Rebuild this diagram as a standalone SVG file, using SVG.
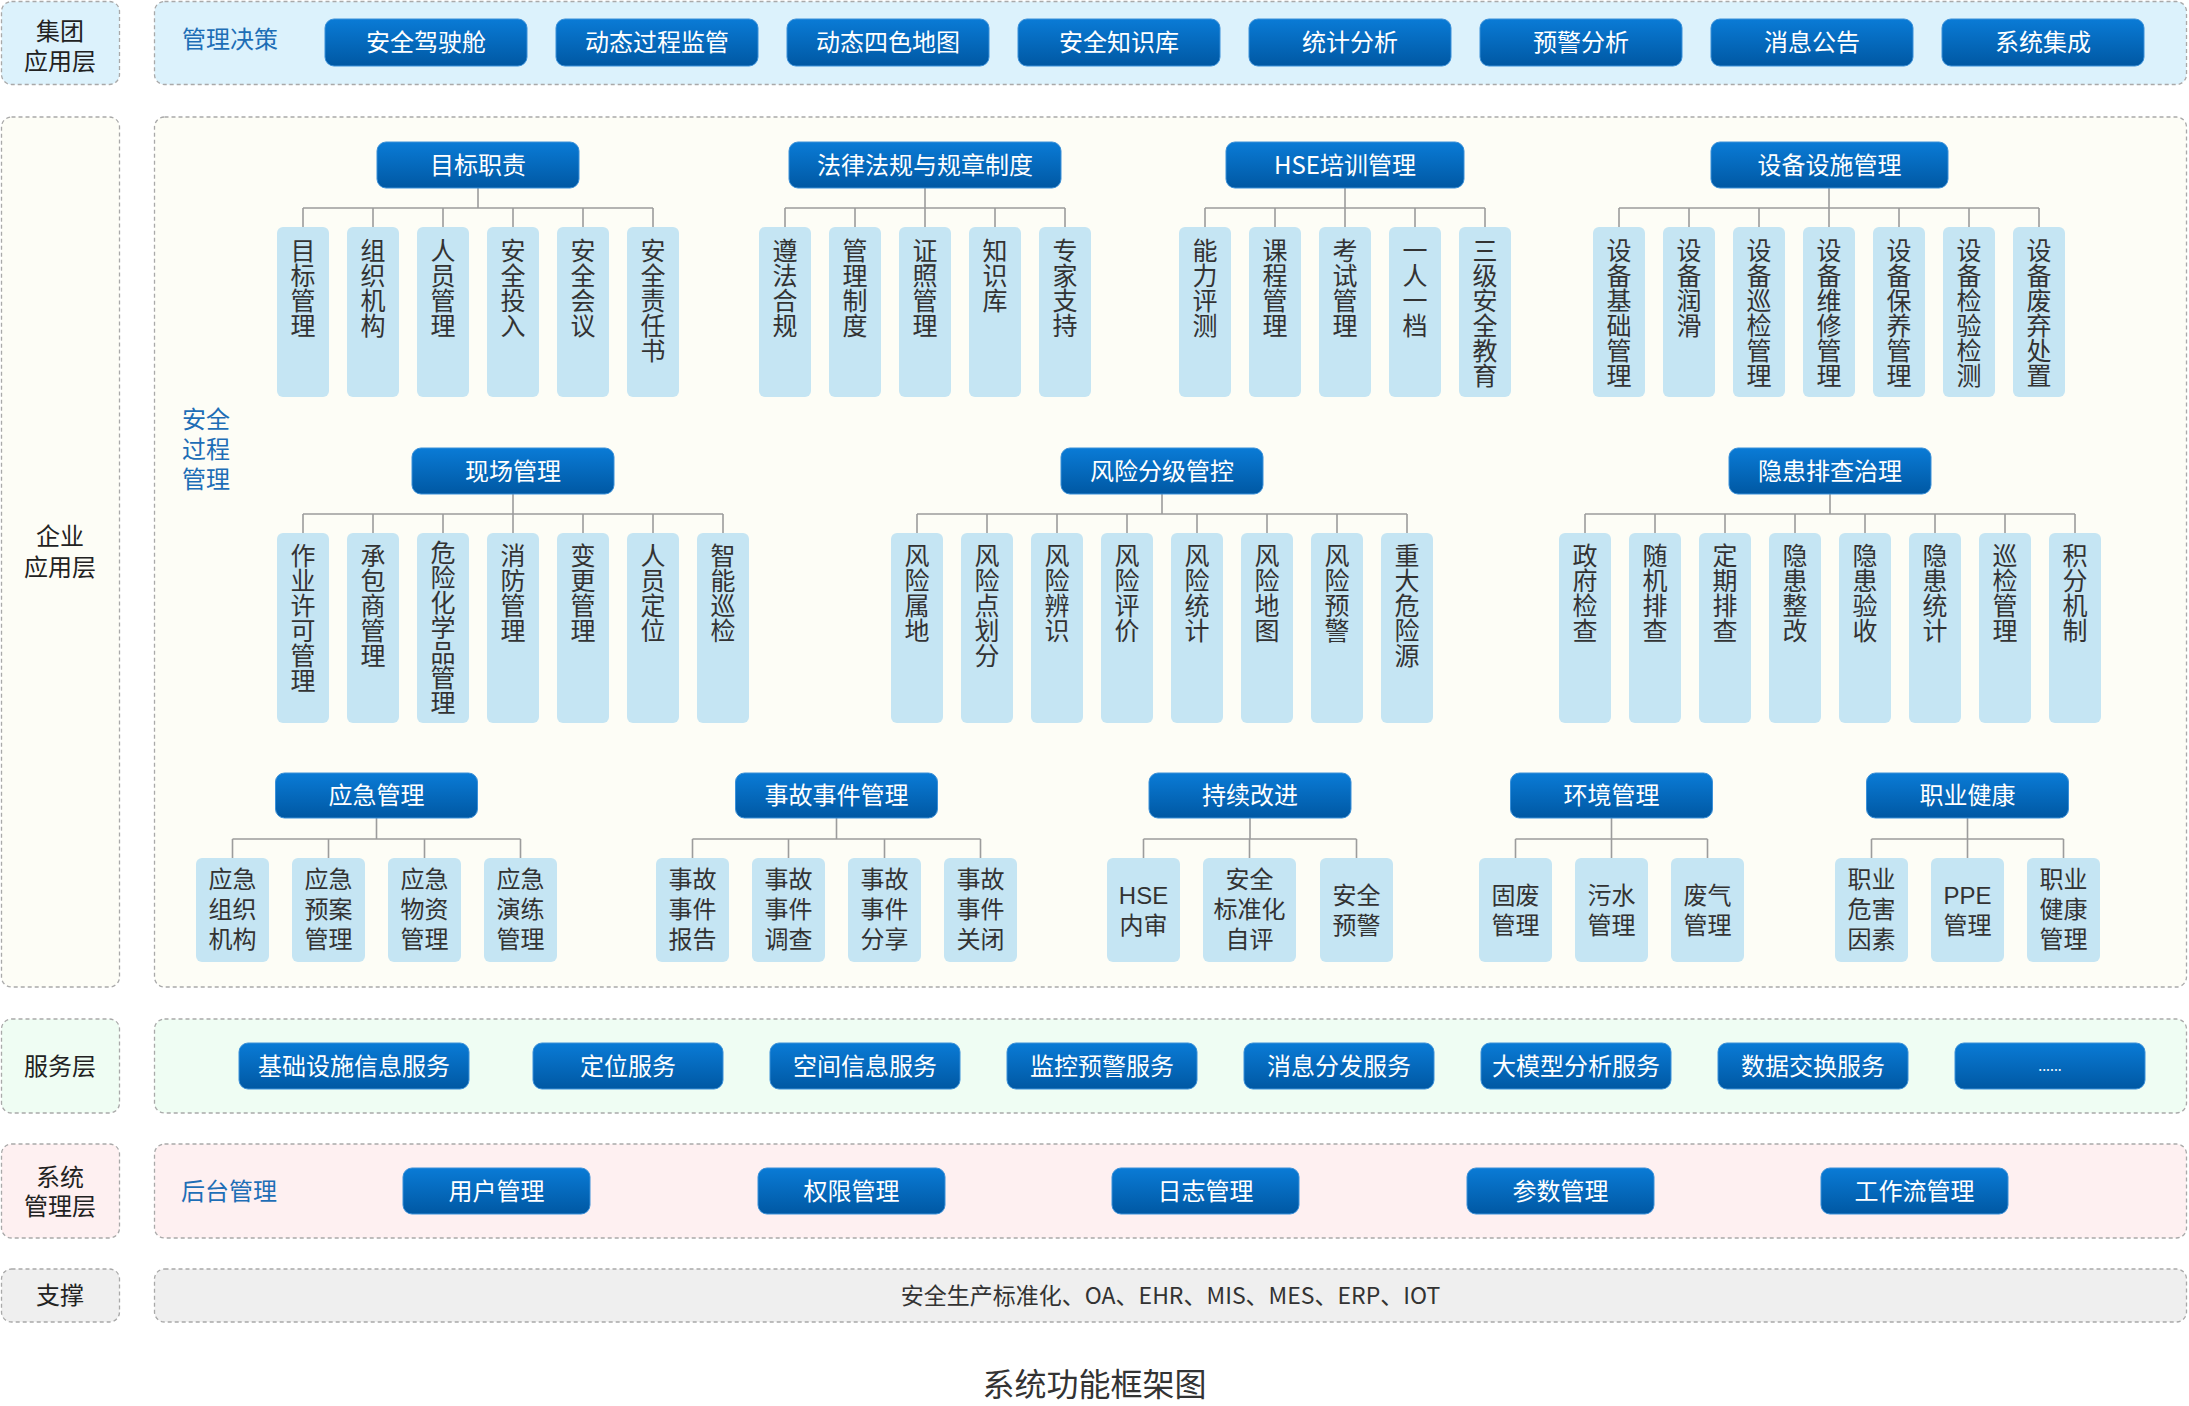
<svg xmlns="http://www.w3.org/2000/svg" width="2189" height="1406" viewBox="0 0 2189 1406">
<defs>
<linearGradient id="btnGrad" x1="0" y1="0" x2="0" y2="1">
<stop offset="0" stop-color="#0a7bd6"/>
<stop offset="1" stop-color="#0058a3"/>
</linearGradient>
<style>
text{font-family:"Noto Sans CJK SC","Liberation Sans",sans-serif;}
.bg{stroke:#a9a9a9;stroke-width:1.3;stroke-dasharray:4 3;}
.bgTop{fill:#dcf2fc;}
.bgEnt{fill:#fdfdf6;}
.bgSvc{fill:#effdf3;}
.bgSys{fill:#fef0f1;}
.bgSup{fill:#efefef;}
.lay{font-family:"Liberation Sans","Noto Sans CJK SC",sans-serif;font-size:24px;fill:#222;text-anchor:middle;}
.lbl{font-family:"Liberation Sans","Noto Sans CJK SC",sans-serif;font-size:24px;fill:#1e6eb6;}
.btn{fill:url(#btnGrad);stroke:#3b90d8;stroke-width:1;}
.bt{font-size:24px;fill:#fff;text-anchor:middle;}
.leaf{fill:#c5e5f3;}
.lt{font-family:"Liberation Sans","Noto Sans CJK SC",sans-serif;font-size:24px;fill:#333;text-anchor:middle;}
.vt{font-size:25px;fill:#333;writing-mode:vertical-rl;text-anchor:start;}
.conn{stroke:#9c9c9c;stroke-width:1.6;fill:none;}
</style>
</defs>

<!-- Layer backgrounds -->
<g id="layers">
<rect class="bg bgTop" x="1.5" y="1.5" width="118" height="83" rx="10"/>
<rect class="bg bgTop" x="154.5" y="1.5" width="2032" height="83" rx="10"/>
<rect class="bg bgEnt" x="1.5" y="117" width="118" height="870" rx="10"/>
<rect class="bg bgEnt" x="154.5" y="117" width="2032" height="870" rx="10"/>
<rect class="bg bgSvc" x="1.5" y="1019" width="118" height="94" rx="10"/>
<rect class="bg bgSvc" x="154.5" y="1019" width="2032" height="94" rx="10"/>
<rect class="bg bgSys" x="1.5" y="1144" width="118" height="94" rx="10"/>
<rect class="bg bgSys" x="154.5" y="1144" width="2032" height="94" rx="10"/>
<rect class="bg bgSup" x="1.5" y="1269" width="118" height="53" rx="10"/>
<rect class="bg bgSup" x="154.5" y="1269" width="2032" height="53" rx="10"/>
</g>

<g id="layer-labels">
<text class="lay" x="60" y="40">集团</text>
<text class="lay" x="60" y="70">应用层</text>
<text class="lay" x="60" y="545">企业</text>
<text class="lay" x="60" y="576">应用层</text>
<text class="lay" x="60" y="1075">服务层</text>
<text class="lay" x="60" y="1186">系统</text>
<text class="lay" x="60" y="1215">管理层</text>
<text class="lay" x="60" y="1304">支撑</text>
<text class="lbl" x="182" y="48">管理决策</text>
<text class="lbl" x="182" y="428">安全</text>
<text class="lbl" x="182" y="458">过程</text>
<text class="lbl" x="182" y="488">管理</text>
<text class="lbl" x="181" y="1200">后台管理</text>
</g>

<!-- Connectors -->
<g id="connectors" class="conn">
<path d="M478 188V208 M303 208H653 M303 208V227 M373 208V227 M443 208V227 M513 208V227 M583 208V227 M653 208V227"/>
<path d="M925 188V208 M785 208H1065 M785 208V227 M855 208V227 M925 208V227 M995 208V227 M1065 208V227"/>
<path d="M1345 188V208 M1205 208H1485 M1205 208V227 M1275 208V227 M1345 208V227 M1415 208V227 M1485 208V227"/>
<path d="M1829 188V208 M1619 208H2039 M1619 208V227 M1689 208V227 M1759 208V227 M1829 208V227 M1899 208V227 M1969 208V227 M2039 208V227"/>
<path d="M513 494V514 M303 514H723 M303 514V533 M373 514V533 M443 514V533 M513 514V533 M583 514V533 M653 514V533 M723 514V533"/>
<path d="M1162 494V514 M917 514H1407 M917 514V533 M987 514V533 M1057 514V533 M1127 514V533 M1197 514V533 M1267 514V533 M1337 514V533 M1407 514V533"/>
<path d="M1830 494V514 M1585 514H2075 M1585 514V533 M1655 514V533 M1725 514V533 M1795 514V533 M1865 514V533 M1935 514V533 M2005 514V533 M2075 514V533"/>
<path d="M376.5 818V839 M232.5 839H520.5 M232.5 839V858 M328.5 839V858 M424.5 839V858 M520.5 839V858"/>
<path d="M836.5 818V839 M692.5 839H980.5 M692.5 839V858 M788.5 839V858 M884.5 839V858 M980.5 839V858"/>
<path d="M1250 818V839 M1143.5 839H1356.5 M1143.5 839V858 M1249.5 839V858 M1356.5 839V858"/>
<path d="M1611.5 818V839 M1515.5 839H1707.5 M1515.5 839V858 M1611.5 839V858 M1707.5 839V858"/>
<path d="M1967.5 818V839 M1871.5 839H2063.5 M1871.5 839V858 M1967.5 839V858 M2063.5 839V858"/>
</g>

<!-- Top decision buttons -->
<g id="top-buttons">
<g id="t1"><rect class="btn" x="325" y="19" width="202" height="47" rx="9"/><text class="bt" x="426" y="51">安全驾驶舱</text></g>
<g id="t2"><rect class="btn" x="556" y="19" width="202" height="47" rx="9"/><text class="bt" x="657" y="51">动态过程监管</text></g>
<g id="t3"><rect class="btn" x="787" y="19" width="202" height="47" rx="9"/><text class="bt" x="888" y="51">动态四色地图</text></g>
<g id="t4"><rect class="btn" x="1018" y="19" width="202" height="47" rx="9"/><text class="bt" x="1119" y="51">安全知识库</text></g>
<g id="t5"><rect class="btn" x="1249" y="19" width="202" height="47" rx="9"/><text class="bt" x="1350" y="51">统计分析</text></g>
<g id="t6"><rect class="btn" x="1480" y="19" width="202" height="47" rx="9"/><text class="bt" x="1581" y="51">预警分析</text></g>
<g id="t7"><rect class="btn" x="1711" y="19" width="202" height="47" rx="9"/><text class="bt" x="1812" y="51">消息公告</text></g>
<g id="t8"><rect class="btn" x="1942" y="19" width="202" height="47" rx="9"/><text class="bt" x="2043" y="51">系统集成</text></g>
</g>

<!-- Row 1 headers -->
<g id="h-mubiao"><rect class="btn" x="377" y="142" width="202" height="46" rx="9"/><text class="bt" x="478" y="174">目标职责</text></g>
<g id="h-falv"><rect class="btn" x="789" y="142" width="272" height="46" rx="9"/><text class="bt" x="925" y="174">法律法规与规章制度</text></g>
<g id="h-hse"><rect class="btn" x="1226" y="142" width="238" height="46" rx="9"/><text class="bt" x="1345" y="174">HSE培训管理</text></g>
<g id="h-shebei"><rect class="btn" x="1711" y="142" width="237" height="46" rx="9"/><text class="bt" x="1829.5" y="174">设备设施管理</text></g>

<!-- Row 1 leaves -->
<g id="l-mubiao">
<rect class="leaf" x="277" y="227" width="52" height="170" rx="6"/><text class="vt" x="303" y="238">目标管理</text>
<rect class="leaf" x="347" y="227" width="52" height="170" rx="6"/><text class="vt" x="373" y="238">组织机构</text>
<rect class="leaf" x="417" y="227" width="52" height="170" rx="6"/><text class="vt" x="443" y="238">人员管理</text>
<rect class="leaf" x="487" y="227" width="52" height="170" rx="6"/><text class="vt" x="513" y="238">安全投入</text>
<rect class="leaf" x="557" y="227" width="52" height="170" rx="6"/><text class="vt" x="583" y="238">安全会议</text>
<rect class="leaf" x="627" y="227" width="52" height="170" rx="6"/><text class="vt" x="653" y="238">安全责任书</text>
</g>
<g id="l-falv">
<rect class="leaf" x="759" y="227" width="52" height="170" rx="6"/><text class="vt" x="785" y="238">遵法合规</text>
<rect class="leaf" x="829" y="227" width="52" height="170" rx="6"/><text class="vt" x="855" y="238">管理制度</text>
<rect class="leaf" x="899" y="227" width="52" height="170" rx="6"/><text class="vt" x="925" y="238">证照管理</text>
<rect class="leaf" x="969" y="227" width="52" height="170" rx="6"/><text class="vt" x="995" y="238">知识库</text>
<rect class="leaf" x="1039" y="227" width="52" height="170" rx="6"/><text class="vt" x="1065" y="238">专家支持</text>
</g>
<g id="l-hse">
<rect class="leaf" x="1179" y="227" width="52" height="170" rx="6"/><text class="vt" x="1205" y="238">能力评测</text>
<rect class="leaf" x="1249" y="227" width="52" height="170" rx="6"/><text class="vt" x="1275" y="238">课程管理</text>
<rect class="leaf" x="1319" y="227" width="52" height="170" rx="6"/><text class="vt" x="1345" y="238">考试管理</text>
<rect class="leaf" x="1389" y="227" width="52" height="170" rx="6"/><text class="vt" x="1415" y="238">一人一档</text>
<rect class="leaf" x="1459" y="227" width="52" height="170" rx="6"/><text class="vt" x="1485" y="238">三级安全教育</text>
</g>
<g id="l-shebei">
<rect class="leaf" x="1593" y="227" width="52" height="170" rx="6"/><text class="vt" x="1619" y="238">设备基础管理</text>
<rect class="leaf" x="1663" y="227" width="52" height="170" rx="6"/><text class="vt" x="1689" y="238">设备润滑</text>
<rect class="leaf" x="1733" y="227" width="52" height="170" rx="6"/><text class="vt" x="1759" y="238">设备巡检管理</text>
<rect class="leaf" x="1803" y="227" width="52" height="170" rx="6"/><text class="vt" x="1829" y="238">设备维修管理</text>
<rect class="leaf" x="1873" y="227" width="52" height="170" rx="6"/><text class="vt" x="1899" y="238">设备保养管理</text>
<rect class="leaf" x="1943" y="227" width="52" height="170" rx="6"/><text class="vt" x="1969" y="238">设备检验检测</text>
<rect class="leaf" x="2013" y="227" width="52" height="170" rx="6"/><text class="vt" x="2039" y="238">设备废弃处置</text>
</g>

<!-- Row 2 headers -->
<g id="h-xianchang"><rect class="btn" x="412" y="448" width="202" height="46" rx="9"/><text class="bt" x="513" y="480">现场管理</text></g>
<g id="h-fengxian"><rect class="btn" x="1061" y="448" width="202" height="46" rx="9"/><text class="bt" x="1162" y="480">风险分级管控</text></g>
<g id="h-yinhuan"><rect class="btn" x="1729" y="448" width="202" height="46" rx="9"/><text class="bt" x="1830" y="480">隐患排查治理</text></g>

<!-- Row 2 leaves -->
<g id="l-xianchang">
<rect class="leaf" x="277" y="533" width="52" height="190" rx="6"/><text class="vt" x="303" y="543">作业许可管理</text>
<rect class="leaf" x="347" y="533" width="52" height="190" rx="6"/><text class="vt" x="373" y="543">承包商管理</text>
<rect class="leaf" x="417" y="533" width="52" height="190" rx="6"/><text class="vt" x="443" y="540">危险化学品管理</text>
<rect class="leaf" x="487" y="533" width="52" height="190" rx="6"/><text class="vt" x="513" y="543">消防管理</text>
<rect class="leaf" x="557" y="533" width="52" height="190" rx="6"/><text class="vt" x="583" y="543">变更管理</text>
<rect class="leaf" x="627" y="533" width="52" height="190" rx="6"/><text class="vt" x="653" y="543">人员定位</text>
<rect class="leaf" x="697" y="533" width="52" height="190" rx="6"/><text class="vt" x="723" y="543">智能巡检</text>
</g>
<g id="l-fengxian">
<rect class="leaf" x="891" y="533" width="52" height="190" rx="6"/><text class="vt" x="917" y="543">风险属地</text>
<rect class="leaf" x="961" y="533" width="52" height="190" rx="6"/><text class="vt" x="987" y="543">风险点划分</text>
<rect class="leaf" x="1031" y="533" width="52" height="190" rx="6"/><text class="vt" x="1057" y="543">风险辨识</text>
<rect class="leaf" x="1101" y="533" width="52" height="190" rx="6"/><text class="vt" x="1127" y="543">风险评价</text>
<rect class="leaf" x="1171" y="533" width="52" height="190" rx="6"/><text class="vt" x="1197" y="543">风险统计</text>
<rect class="leaf" x="1241" y="533" width="52" height="190" rx="6"/><text class="vt" x="1267" y="543">风险地图</text>
<rect class="leaf" x="1311" y="533" width="52" height="190" rx="6"/><text class="vt" x="1337" y="543">风险预警</text>
<rect class="leaf" x="1381" y="533" width="52" height="190" rx="6"/><text class="vt" x="1407" y="543">重大危险源</text>
</g>
<g id="l-yinhuan">
<rect class="leaf" x="1559" y="533" width="52" height="190" rx="6"/><text class="vt" x="1585" y="543">政府检查</text>
<rect class="leaf" x="1629" y="533" width="52" height="190" rx="6"/><text class="vt" x="1655" y="543">随机排查</text>
<rect class="leaf" x="1699" y="533" width="52" height="190" rx="6"/><text class="vt" x="1725" y="543">定期排查</text>
<rect class="leaf" x="1769" y="533" width="52" height="190" rx="6"/><text class="vt" x="1795" y="543">隐患整改</text>
<rect class="leaf" x="1839" y="533" width="52" height="190" rx="6"/><text class="vt" x="1865" y="543">隐患验收</text>
<rect class="leaf" x="1909" y="533" width="52" height="190" rx="6"/><text class="vt" x="1935" y="543">隐患统计</text>
<rect class="leaf" x="1979" y="533" width="52" height="190" rx="6"/><text class="vt" x="2005" y="543">巡检管理</text>
<rect class="leaf" x="2049" y="533" width="52" height="190" rx="6"/><text class="vt" x="2075" y="543">积分机制</text>
</g>

<!-- Row 3 headers -->
<g id="h-yingji"><rect class="btn" x="275.5" y="773" width="202" height="45" rx="9"/><text class="bt" x="376.5" y="804">应急管理</text></g>
<g id="h-shigu"><rect class="btn" x="735.5" y="773" width="202" height="45" rx="9"/><text class="bt" x="836.5" y="804">事故事件管理</text></g>
<g id="h-chixu"><rect class="btn" x="1149" y="773" width="202" height="45" rx="9"/><text class="bt" x="1250" y="804">持续改进</text></g>
<g id="h-huanjing"><rect class="btn" x="1510.5" y="773" width="202" height="45" rx="9"/><text class="bt" x="1611.5" y="804">环境管理</text></g>
<g id="h-zhiye"><rect class="btn" x="1866.5" y="773" width="202" height="45" rx="9"/><text class="bt" x="1967.5" y="804">职业健康</text></g>

<!-- Row 3 leaves -->
<g id="l-yingji">
<rect class="leaf" x="196" y="858" width="73" height="104" rx="6"/><text class="lt" x="232.5" y="888">应急<tspan x="232.5" dy="30">组织</tspan><tspan x="232.5" dy="30">机构</tspan></text>
<rect class="leaf" x="292" y="858" width="73" height="104" rx="6"/><text class="lt" x="328.5" y="888">应急<tspan x="328.5" dy="30">预案</tspan><tspan x="328.5" dy="30">管理</tspan></text>
<rect class="leaf" x="388" y="858" width="73" height="104" rx="6"/><text class="lt" x="424.5" y="888">应急<tspan x="424.5" dy="30">物资</tspan><tspan x="424.5" dy="30">管理</tspan></text>
<rect class="leaf" x="484" y="858" width="73" height="104" rx="6"/><text class="lt" x="520.5" y="888">应急<tspan x="520.5" dy="30">演练</tspan><tspan x="520.5" dy="30">管理</tspan></text>
</g>
<g id="l-shigu">
<rect class="leaf" x="656" y="858" width="73" height="104" rx="6"/><text class="lt" x="692.5" y="888">事故<tspan x="692.5" dy="30">事件</tspan><tspan x="692.5" dy="30">报告</tspan></text>
<rect class="leaf" x="752" y="858" width="73" height="104" rx="6"/><text class="lt" x="788.5" y="888">事故<tspan x="788.5" dy="30">事件</tspan><tspan x="788.5" dy="30">调查</tspan></text>
<rect class="leaf" x="848" y="858" width="73" height="104" rx="6"/><text class="lt" x="884.5" y="888">事故<tspan x="884.5" dy="30">事件</tspan><tspan x="884.5" dy="30">分享</tspan></text>
<rect class="leaf" x="944" y="858" width="73" height="104" rx="6"/><text class="lt" x="980.5" y="888">事故<tspan x="980.5" dy="30">事件</tspan><tspan x="980.5" dy="30">关闭</tspan></text>
</g>
<g id="l-chixu">
<rect class="leaf" x="1107" y="858" width="73" height="104" rx="6"/><text class="lt" x="1143.5" y="904">HSE<tspan x="1143.5" dy="30">内审</tspan></text>
<rect class="leaf" x="1203" y="858" width="93" height="104" rx="6"/><text class="lt" x="1249.5" y="888">安全<tspan x="1249.5" dy="30">标准化</tspan><tspan x="1249.5" dy="30">自评</tspan></text>
<rect class="leaf" x="1320" y="858" width="73" height="104" rx="6"/><text class="lt" x="1356.5" y="904">安全<tspan x="1356.5" dy="30">预警</tspan></text>
</g>
<g id="l-huanjing">
<rect class="leaf" x="1479" y="858" width="73" height="104" rx="6"/><text class="lt" x="1515.5" y="904">固废<tspan x="1515.5" dy="30">管理</tspan></text>
<rect class="leaf" x="1575" y="858" width="73" height="104" rx="6"/><text class="lt" x="1611.5" y="904">污水<tspan x="1611.5" dy="30">管理</tspan></text>
<rect class="leaf" x="1671" y="858" width="73" height="104" rx="6"/><text class="lt" x="1707.5" y="904">废气<tspan x="1707.5" dy="30">管理</tspan></text>
</g>
<g id="l-zhiye">
<rect class="leaf" x="1835" y="858" width="73" height="104" rx="6"/><text class="lt" x="1871.5" y="888">职业<tspan x="1871.5" dy="30">危害</tspan><tspan x="1871.5" dy="30">因素</tspan></text>
<rect class="leaf" x="1931" y="858" width="73" height="104" rx="6"/><text class="lt" x="1967.5" y="904">PPE<tspan x="1967.5" dy="30">管理</tspan></text>
<rect class="leaf" x="2027" y="858" width="73" height="104" rx="6"/><text class="lt" x="2063.5" y="888">职业<tspan x="2063.5" dy="30">健康</tspan><tspan x="2063.5" dy="30">管理</tspan></text>
</g>

<!-- Service layer -->
<g id="services">
<g id="s1"><rect class="btn" x="239" y="1043" width="230" height="46" rx="9"/><text class="bt" x="354" y="1075">基础设施信息服务</text></g>
<g id="s2"><rect class="btn" x="533" y="1043" width="190" height="46" rx="9"/><text class="bt" x="628" y="1075">定位服务</text></g>
<g id="s3"><rect class="btn" x="770" y="1043" width="190" height="46" rx="9"/><text class="bt" x="865" y="1075">空间信息服务</text></g>
<g id="s4"><rect class="btn" x="1007" y="1043" width="190" height="46" rx="9"/><text class="bt" x="1102" y="1075">监控预警服务</text></g>
<g id="s5"><rect class="btn" x="1244" y="1043" width="190" height="46" rx="9"/><text class="bt" x="1339" y="1075">消息分发服务</text></g>
<g id="s6"><rect class="btn" x="1481" y="1043" width="190" height="46" rx="9"/><text class="bt" x="1576" y="1075">大模型分析服务</text></g>
<g id="s7"><rect class="btn" x="1718" y="1043" width="190" height="46" rx="9"/><text class="bt" x="1813" y="1075">数据交换服务</text></g>
<g id="s8"><rect class="btn" x="1955" y="1043" width="190" height="46" rx="9"/><text class="bt" x="2050" y="1071" style="font-size:14px">......</text></g>
</g>

<!-- System management layer -->
<g id="system">
<g id="m1"><rect class="btn" x="403" y="1168" width="187" height="46" rx="9"/><text class="bt" x="496.5" y="1200">用户管理</text></g>
<g id="m2"><rect class="btn" x="758" y="1168" width="187" height="46" rx="9"/><text class="bt" x="851.5" y="1200">权限管理</text></g>
<g id="m3"><rect class="btn" x="1112" y="1168" width="187" height="46" rx="9"/><text class="bt" x="1205.5" y="1200">日志管理</text></g>
<g id="m4"><rect class="btn" x="1467" y="1168" width="187" height="46" rx="9"/><text class="bt" x="1560.5" y="1200">参数管理</text></g>
<g id="m5"><rect class="btn" x="1821" y="1168" width="187" height="46" rx="9"/><text class="bt" x="1914.5" y="1200">工作流管理</text></g>
</g>

<!-- Support layer -->
<g id="support">
<text x="1170.5" y="1304" style="font-size:23px;fill:#333;text-anchor:middle">安全生产标准化、OA、EHR、MIS、MES、ERP、IOT</text>
</g>

<text id="title" x="1094.5" y="1396" style="font-size:32px;fill:#333;text-anchor:middle">系统功能框架图</text>
</svg>
